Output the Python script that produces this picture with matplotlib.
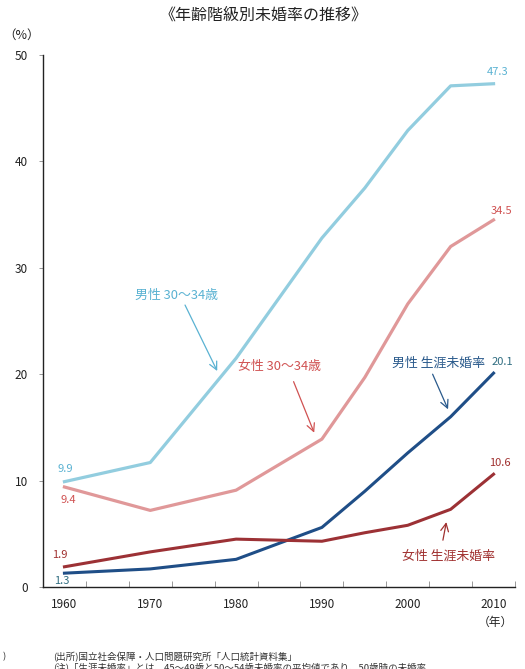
import matplotlib
matplotlib.use("Agg")
import matplotlib.pyplot as plt

plt.rcParams['font.family'] = ['Noto Sans CJK JP', 'DejaVu Sans']

years = [1960, 1970, 1980, 1990, 1995, 2000, 2005, 2010]
men_30_34 = [9.9, 11.7, 21.5, 32.8, 37.5, 42.9, 47.1, 47.3]
women_30_34 = [9.4, 7.2, 9.1, 13.9, 19.7, 26.6, 32.0, 34.5]
men_lifetime = [1.3, 1.7, 2.6, 5.6, 9.0, 12.6, 16.0, 20.1]
women_lifetime = [1.9, 3.3, 4.5, 4.3, 5.1, 5.8, 7.3, 10.6]

x_labels = [1960, 1970, 1980, 1990, 2000, 2010]
y_ticks = [0, 10, 20, 30, 40, 50]

title = "《年齢階級別未婚率の推移》"
series_names = ["男性 30〜34歳", "女性 30〜34歳", "男性 生涯未婚率", "女性 生涯未婚率"]

c_men = "#92CDDF"
c_women = "#E09899"
c_men_l = "#1F4E87"
c_women_l = "#9C3135"
t_men = "#5AB2D2"
t_women = "#D05252"
t_men_l = "#2A5A8C"
t_women_l = "#A0302F"

fig = plt.figure(figsize=(5.25, 6.69), dpi=100)
ax = fig.add_axes([43/525, 1-587/669, 472/525, 532/669])

ax.plot(years, men_30_34, color=c_men, lw=2.3, solid_joinstyle='round')
ax.plot(years, women_30_34, color=c_women, lw=2.3, solid_joinstyle='round')
ax.plot(years, men_lifetime, color=c_men_l, lw=2.2, solid_joinstyle='round')
ax.plot(years, women_lifetime, color=c_women_l, lw=2.2, solid_joinstyle='round')

ax.set_xlim(1957.5, 2012.5)
ax.set_ylim(0, 50)
for s in ("top", "right"):
    ax.spines[s].set_visible(False)
for s in ("left", "bottom"):
    ax.spines[s].set_linewidth(1.0)
    ax.spines[s].set_color("#222222")

ax.set_yticks(y_ticks)
ax.set_yticklabels([str(v) for v in y_ticks], fontsize=8.5, color="#222222")
ax.tick_params(axis='y', length=3, width=0.6, color="#888888", pad=8)

ax.set_xticks([1957.5 + 5 * i for i in range(12)])
ax.set_xticklabels([])
ax.tick_params(axis='x', direction='in', length=4, width=0.6, color="#888888")
for yr in x_labels:
    ax.text(yr, -1.6, str(yr), ha='center', va='center', fontsize=8.5, color="#222222")
ax.text(2010.2, -3.3, "（年）", ha='center', va='center', fontsize=8.5, color="#222222")

fig.text(264/525, 1-15/669, title, ha='center', va='center', fontsize=11.5, color="#222222")
fig.text(22/525, 1-35/669, "（%）", ha='center', va='center', fontsize=9, color="#222222")

# end-point values
first = [
    (men_30_34[0], t_men, 0.06, 1.2),
    (women_30_34[0], t_women, 0.4, -1.2),
    (women_lifetime[0], t_women_l, -0.5, 1.1),
    (men_lifetime[0], "#2F6C80", -0.3, -0.75),
]
for v, c, dx, dy in first:
    ax.text(years[0] + dx, v + dy, f"{v:.1f}", ha='center', va='center', fontsize=8, color=c)

last = [
    (men_30_34[-1], t_men, 0.5, 1.1),
    (women_30_34[-1], t_women, 0.9, 0.8),
    (men_lifetime[-1], "#2F6C80", 1.0, 1.0),
    (women_lifetime[-1], t_women_l, 0.75, 1.05),
]
for v, c, dx, dy in last:
    ax.text(years[-1] + dx, v + dy, f"{v:.1f}", ha='center', va='center', fontsize=8, color=c)

# series labels with arrows
arrow_kw = dict(arrowstyle='->', lw=0.9, mutation_scale=14, shrinkA=0, shrinkB=0)
notes = [
    (series_names[0], t_men, (1973.1, 27.4), (1974.05, 26.5), (1977.8, 20.3)),
    (series_names[1], t_women, (1985.1, 20.7), (1986.7, 19.3), (1989.1, 14.5)),
    (series_names[2], t_men_l, (2003.6, 21.0), (2002.9, 20.0), (2004.7, 16.7)),
    (series_names[3], t_women_l, (2004.7, 2.9), (2004.1, 4.4), (2004.5, 6.1)),
]
for name, c, tpos, tail, tip in notes:
    ax.text(tpos[0], tpos[1], name, ha='center', va='center', fontsize=9.3, color=c)
    ax.annotate("", xy=tip, xytext=tail, arrowprops=dict(color=c, **arrow_kw))

fig.text(53/525, 1-657/669, "(出所)国立社会保障・人口問題研究所「人口統計資料集」",
         ha='left', va='center', fontsize=6.8, color="#333333")
fig.text(53/525, 1-668/669, "(注)「生涯未婚率」とは、45〜49歳と50〜54歳未婚率の平均値であり、50歳時の未婚率",
         ha='left', va='center', fontsize=6.8, color="#333333")
fig.text(3/525, 1-657/669, ")", ha='left', va='center', fontsize=6.8, color="#333333")

fig.savefig("out.png", dpi=100)
